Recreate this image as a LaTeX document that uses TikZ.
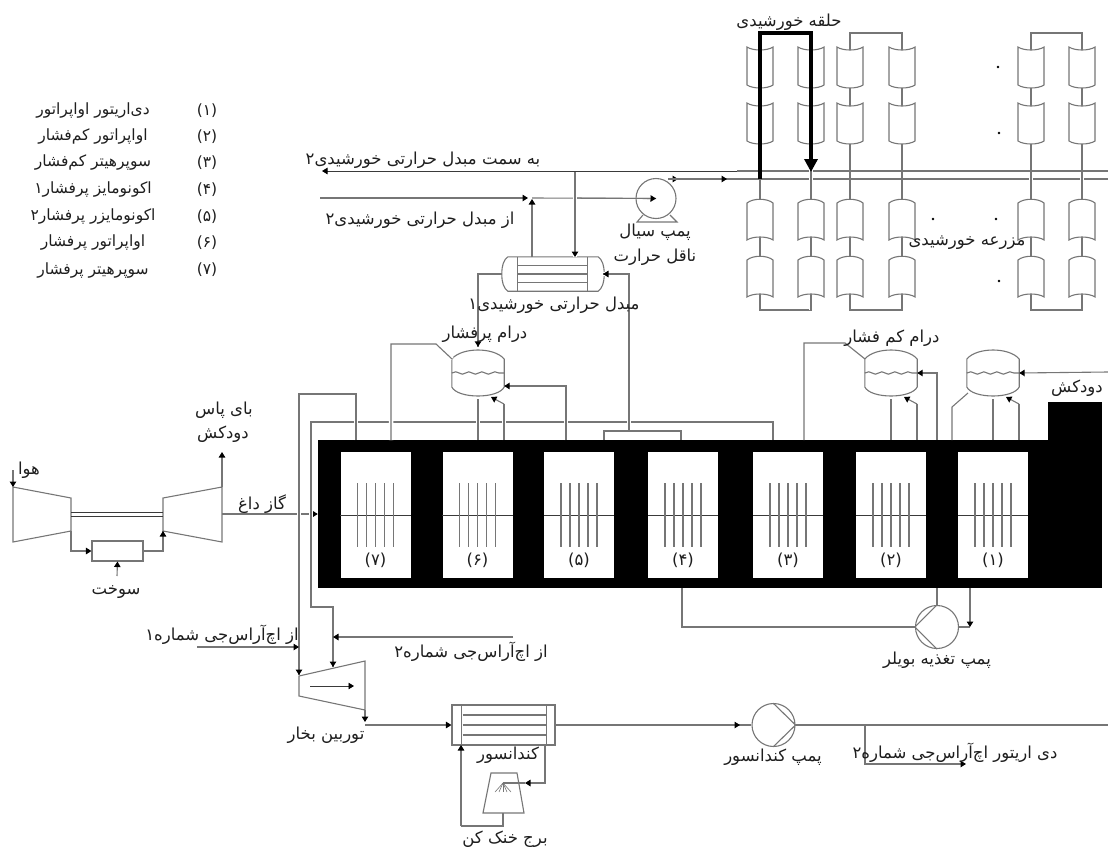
\documentclass[tikz,border=0pt]{standalone}
\usepackage{fontspec}
\usetikzlibrary{arrows.meta,decorations.pathmorphing,calc}
\newfontfamily\arabicfont[Script=Arabic]{DejaVu Sans}
\TeXXeTstate=1
\newcommand\fa[1]{\arabicfont\beginR #1\endR}
\definecolor{ln}{HTML}{767676}
\definecolor{dk}{HTML}{3A3A3A}
\definecolor{tx}{HTML}{1E1E1E}
\tikzset{
 pipe/.style={draw=ln,line width=1.1pt},
 dpipe/.style={draw=dk,line width=0.9pt},
 halo/.style={preaction={draw=white,line width=4.5pt,-}},
 flow/.style={-{Triangle[length=5.5pt,width=6.5pt,color=black]}},
 lab/.style={text=tx,font=\fontsize{16.5}{18}\selectfont,inner sep=0pt},
 leg/.style={text=tx,font=\fontsize{15.5}{18}\selectfont,inner sep=0pt},
 panel/.style={fill=white,minimum width=70pt,minimum height=126pt,inner sep=0pt},
 drumbox/.style={minimum width=52pt,minimum height=52pt,inner sep=0pt},
 boxed/.style={draw=ln,line width=1.1pt,fill=white,inner sep=0pt},
 pumpc/.style={circle,draw=ln,line width=1.1pt,fill=white,minimum size=#1,inner sep=0pt},
}
% upper collector at pipe x, corner top y
\newcommand\ucol[2]{\draw[pipe,fill=white] (#1-13,#2) .. controls (#1-7,#2+4) and (#1+7,#2+4) .. (#1+13,#2) -- (#1+13,#2+38) .. controls (#1+7,#2+42) and (#1-7,#2+42) .. (#1-13,#2+38) -- cycle;}
% lower collector at pipe x, corner top y
\newcommand\lcol[2]{\draw[pipe,fill=white] (#1-13,#2) .. controls (#1-7,#2-5) and (#1+7,#2-5) .. (#1+13,#2) -- (#1+13,#2+37) .. controls (#1+7,#2+33) and (#1-7,#2+33) .. (#1-13,#2+37) -- cycle;}
\newcommand\drumshape[1]{%
 \draw[pipe,fill=white] ($(#1.west)+(0,-14)$) .. controls ($(#1.west)+(10,-26)$) and ($(#1.east)+(-10,-26)$) .. ($(#1.east)+(0,-14)$) -- ($(#1.east)+(0,14)$) .. controls ($(#1.east)+(-6,26)$) and ($(#1.west)+(6,26)$) .. ($(#1.west)+(0,14)$) -- cycle;
 \draw[pipe,decorate,decoration={snake,amplitude=1.2pt,segment length=13pt}] (#1.west) -- (#1.east);}
\begin{document}
\begin{tikzpicture}[x=1pt,y=-1pt]
\useasboundingbox (0,0) rectangle (1108,846);
% ---------- furnace
\node[fill=black,minimum width=784pt,minimum height=148pt,inner sep=0pt] (furn) at (710,514) {};
\node[fill=black,minimum width=54pt,minimum height=38pt,inner sep=0pt] (stack) at (1075,421) {};
\foreach \n/\cx/\t in {1/993/۱,2/891/۲,3/788/۳,4/683/۴,5/579/۵,6/477.5/۶,7/375.5/۷}{
  \node[panel] (p\n) at (\cx,515) {};
  \draw[draw=dk,line width=0.8pt] (p\n.west) -- (p\n.east);
  \foreach \d in {-18,-9,0,9,18}
    \draw[pipe] ($(p\n.center)+(\d,-32)$) -- ($(p\n.center)+(\d,32)$);
  \node[lab] (t\n) at ($(p\n.center)+(0,45)$) {\arabicfont (\t)};
}
% ---------- steam lines above the furnace
\coordinate (ls) at (773,440);
\coordinate (lsa) at (311,422);
\coordinate (lsb) at (333,607);
\coordinate (stin) at (333,667);
\coordinate (hs) at (356,440);
\coordinate (hsa) at (299,394);
\coordinate (stout) at (299,675);
% hot gas
\coordinate (tgout) at (222,514);
\draw[pipe,flow] (tgout) -- (furn.west);
\draw[pipe,halo] (ls) |- (lsa) |- (lsb) -- (stin);
\draw[pipe,flow] (lsb) -- (stin);
\draw[pipe,halo] (hs) |- (hsa) -- (stout);
\draw[pipe,flow] (hsa) -- (stout);
% HP drum
\node[drumbox] (hp) at (478,373) {};
\drumshape{hp}
\coordinate (hpa) at (391,440);
\coordinate (hpb) at (436,344);
\coordinate (hpc) at (452,359);
\draw[pipe,halo] (hpa) |- (hpb) -- (hpc);
\coordinate (hpr) at (478,440);
\draw[pipe,halo] (hpr) -- (hp.south);
\coordinate (hpd) at (504,440);
\coordinate (hpe) at (504,404);
\coordinate (hpf) at (491,397);
\draw[pipe,halo] (hpd) -- (hpe);
\draw[pipe,flow] (hpe) -- (hpf);
\coordinate (hpg) at (566,440);
\draw[pipe,halo] (hpg) -- (566,386);
\draw[pipe,flow] (hpg) |- ($(hp.east)+(0,13)$);
% exchanger 1
\node[minimum width=90pt,minimum height=34pt,inner sep=0pt] (hx) at (553,274) {};
\draw[pipe] (hx.north west) -- (hx.north east) .. controls ($(hx.north east)+(4,3)$) and ($(hx.east)+(6,-9)$) .. ($(hx.east)+(6,0)$) .. controls ($(hx.east)+(6,9)$) and ($(hx.south east)+(4,-3)$) .. (hx.south east) -- (hx.south west) .. controls ($(hx.south west)+(-4,-3)$) and ($(hx.west)+(-6,9)$) .. ($(hx.west)+(-6,0)$) .. controls ($(hx.west)+(-6,-9)$) and ($(hx.north west)+(-4,3)$) .. (hx.north west);
\draw[pipe] ($(hx.north west)+(10,0)$) -- ($(hx.south west)+(10,0)$);
\draw[pipe] ($(hx.north east)+(-11,0)$) -- ($(hx.south east)+(-11,0)$);
\foreach \d in {-8.5,0,8.5}
  \draw[pipe] ($(hx.center)+(-35,\d)$) -- ($(hx.center)+(34,\d)$);
\coordinate (hxl) at (502,274);
\coordinate (hxr) at (603,274);
\draw[pipe] (hxl) -| (hp.north);
\draw[pipe,flow] (478,300) -- (hp.north);
\coordinate (sup1) at (629,431);
\coordinate (sup2) at (604,440);
\coordinate (sup3) at (681,440);
\draw[pipe,halo] (sup1) |- (hxr);
\draw[pipe,flow] (629,274) -- (hxr);
\draw[pipe] (sup2) |- (sup1) -| (sup3);
% LP drum
\node[drumbox] (lp) at (891,373) {};
\drumshape{lp}
\coordinate (lpa) at (804,440);
\coordinate (lpb) at (845,343);
\coordinate (lpc) at (865,359);
\draw[pipe] (lpa) |- (lpb) -- (lpc);
\coordinate (lpr) at (891,440);
\draw[pipe] (lpr) -- (lp.south);
\coordinate (lpd) at (917,440);
\coordinate (lpe) at (917,404);
\coordinate (lpf) at (904,397);
\draw[pipe] (lpd) -- (lpe);
\draw[pipe,flow] (lpe) -- (lpf);
\coordinate (lpg) at (937,440);
\draw[pipe,flow] (lpg) |- (lp.east);
% deaerator drum
\node[drumbox] (de) at (993,373) {};
\drumshape{de}
\coordinate (dea) at (952,440);
\coordinate (deb) at (952,407);
\coordinate (dec) at (968,393);
\draw[pipe] (dea) -- (deb) -- (dec);
\coordinate (der) at (993,440);
\draw[pipe] (der) -- (de.south);
\coordinate (ded) at (1019,440);
\coordinate (dee) at (1019,404);
\coordinate (def) at (1006,397);
\draw[pipe] (ded) -- (dee);
\draw[pipe,flow] (dee) -- (def);
\coordinate (deg) at (1108,372);
\draw[pipe,flow] (deg) -- (de.east);
% ---------- solar loop pipes
\coordinate (hin) at (320,198);
\coordinate (hmid) at (528,198);
\coordinate (hup) at (532,257);
\coordinate (htop) at (532,199);
\coordinate (hdn) at (575,171);
\coordinate (hdnb) at (575,257);
\coordinate (hjn) at (532,198);
\node[pumpc=40pt] (sp) at (656,198.5) {};
\draw[pipe] (hjn) -- (sp.center);
\draw[pipe,flow] (574,198) -- (sp.center);
\draw[pipe,flow] (hin) -- (hmid);
\draw[pipe,flow] (hup) -- (htop);
\draw[pipe,flow,halo] (hdn) -- (hdnb);
\coordinate (retl) at (322,171);
\coordinate (retm) at (737,171);
\coordinate (retr) at (1108,171);
\draw[dpipe,flow] (retm) -- (retl);
\draw[pipe] (retm) -- (retr);
\coordinate (supl) at (668,179);
\coordinate (supm) at (727,179);
\coordinate (supr) at (1108,179);
\draw[pipe] (supl) -- (supr);
\draw[pipe,flow] (supl) -- (678,179);
\draw[pipe,flow] (supl) -- (supm);
\coordinate (spa) at (637,222);
\coordinate (spb) at (643,215);
\coordinate (spc) at (677,222);
\coordinate (spd) at (670,215);
\draw[pipe] (spb) -- (spa) -- (spc) -- (spd);
% loops
\foreach \a/\b/\h in {760/811/halo,850/902/pipe,1031/1082/halo}{
  \draw[pipe,\h] (\a,310) -- (\a,33) -- (\b,33) -- (\b,310) -- cycle;
}
\draw[pipe] (retm) -- (retr);
\draw[pipe] (supm) -- (762,179);
\draw[pipe,halo] (811,33) -- (811,310);
\draw[pipe] (760,33) -- (760,310);
\foreach \x in {760,811,850,902,1031,1082}{
  \ucol{\x}{47}
  \ucol{\x}{103}
  \lcol{\x}{203}
  \lcol{\x}{260}
}
\coordinate (ta1) at (760,179);
\coordinate (ta2) at (760,33);
\coordinate (ta3) at (811,33);
\coordinate (ta4) at (811,172);
\draw[line width=3.6pt,black,miter limit=4,-{Triangle[length=13pt,width=13pt]}] (ta1) |- (ta3) -- (ta4);
\foreach \x/\y in {998/67,999/133,933/219,996/219,999/281}
  \fill[black] (\x,\y) circle (1.3pt);
% ---------- gas turbine
\coordinate (ca) at (13,487); \coordinate (cb) at (71,498); \coordinate (cc) at (71,531); \coordinate (cd) at (13,542);
\draw[pipe] (ca) -- (cb) -- (cc) -- (cd) -- cycle;
\coordinate (ta) at (163,498); \coordinate (tb) at (222,487); \coordinate (tc) at (222,542); \coordinate (td) at (163,531);
\draw[pipe] (ta) -- (tb) -- (tc) -- (td) -- cycle;
\draw[dpipe] (71,512) -- (163,512);
\draw[dpipe] (71,516) -- (163,516);
\node[boxed,minimum width=51pt,minimum height=20pt] (cbr) at (117.5,551) {};
\draw[pipe,flow] (cc) |- (cbr.west);
\draw[pipe] (cbr.east) -| (td);
\draw[pipe,flow] (163,545) -- (td);
\coordinate (fuel) at (117,576);
\draw[pipe,flow] (fuel) -- (cbr.south);
\coordinate (air) at (13,470);
\draw[pipe,flow] (air) -- (ca);
\coordinate (byp) at (222,452);
\draw[pipe,flow] (tb) -- (byp);
% ---------- steam turbine
\coordinate (sa) at (299,676); \coordinate (sb) at (365,661); \coordinate (sc) at (365,710); \coordinate (sd) at (299,696);
\draw[pipe] (sa) -- (sb) -- (sc) -- (sd) -- cycle;
\coordinate (sin1) at (310,686); \coordinate (sin2) at (354,686);
\draw[dpipe,flow] (sin1) -- (sin2);
\coordinate (h1a) at (197,647); \coordinate (h1b) at (299,647);
\draw[pipe,flow] (h1a) -- (h1b);
\coordinate (h2a) at (513,637); \coordinate (h2b) at (333,637);
\draw[pipe,flow] (h2a) -- (h2b);
% condenser
\node[boxed,minimum width=103pt,minimum height=40pt] (cond) at (503.5,725) {};
\draw[pipe] ($(cond.north west)+(10,0)$) -- ($(cond.south west)+(10,0)$);
\draw[pipe] ($(cond.north east)+(-9,0)$) -- ($(cond.south east)+(-9,0)$);
\foreach \d in {-10,0,10}
  \draw[pipe] ($(cond.center)+(-41,\d)$) -- ($(cond.center)+(42,\d)$);
\coordinate (st1) at (365,722);
\coordinate (st2) at (365,725);
\draw[pipe,flow] (sc) -- (st1);
\draw[pipe,flow] (st2) -- (cond.west);
% cooling tower
\coordinate (ct1) at (491,773); \coordinate (ct2) at (517,773); \coordinate (ct3) at (524,813); \coordinate (ct4) at (483,813);
\draw[pipe] (ct1) -- (ct2) -- (ct3) -- (ct4) -- cycle;
\coordinate (cta) at (545,745); \coordinate (ctb) at (545,783); \coordinate (ctc) at (525,783); \coordinate (ctd) at (503,783);
\draw[pipe,flow] (cta) |- (ctc);
\draw[pipe] (ctc) -- (ctd);
\foreach \e in {-8,-4,0,4,8}
  \draw[draw=ln,line width=0.6pt] (ctd) -- ($(ctd)+(\e,9)$);
\coordinate (cte) at (503,813); \coordinate (ctf) at (461,826); \coordinate (ctg) at (461,745);
\draw[pipe] (cte) |- (ctf);
\draw[pipe,flow] (ctf) -- (ctg);
% condenser pump
\node[pumpc=43pt] (cp) at (773.5,725) {};
\draw[pipe] (773.5,703.5) -- (cp.east) -- (773.5,746.5);
\coordinate (cpin) at (740,725);
\draw[pipe] (cond.east) -- (cp.west);
\draw[pipe,flow] (cond.east) -- (cpin);
\coordinate (cpout) at (1108,725);
\draw[pipe] (cp.east) -- (cpout);
\coordinate (br) at (865,725); \coordinate (bre) at (966,764);
\draw[pipe,flow] (br) |- (bre);
% feed pump
\node[pumpc=43pt] (fp) at (937,627) {};
\draw[pipe] (fp.north) -- (fp.west) -- (fp.south);
\coordinate (fpa) at (682,588); \coordinate (fpb) at (937,588); \coordinate (fpc) at (970,588); \coordinate (fpd) at (970,627);
\draw[pipe] (fpa) |- (fp.west);
\draw[pipe] (fpb) -- (fp.north);
\draw[pipe] (fp.east) -- (fpd);
\draw[pipe,flow] (fpc) -- (fpd);
% ---------- labels
\node[leg] (l1) at (93,111) {\fa{دی‌اریتور اواپراتور}};
\node[leg] (l2) at (93,137) {\fa{اواپراتور کم‌فشار}};
\node[leg] (l3) at (93,163) {\fa{سوپرهیتر کم‌فشار}};
\node[leg] (l4) at (93,190) {\fa{اکونومایز پرفشار۱}};
\node[leg] (l5) at (93,217) {\fa{اکونومایزر پرفشار۲}};
\node[leg] (l6) at (93,243) {\fa{اواپراتور پرفشار}};
\node[leg] (l7) at (93,270) {\fa{سوپرهیتر پرفشار}};
\foreach \t/\y in {۱/111,۲/137,۳/163,۴/190,۵/217,۶/243,۷/270}
  \node[leg] (n\t) at (207,\y) {\arabicfont (\t)};
\node[lab] (a1) at (789,22) {\fa{حلقه خورشیدی}};
\node[lab] (a2) at (423,160) {\fa{به سمت مبدل حرارتی خورشیدی۲}};
\node[lab] (a3) at (420,220) {\fa{از مبدل حرارتی خورشیدی۲}};
\node[lab] (a4) at (655,232) {\fa{پمپ سیال}};
\node[lab] (a5) at (655,257) {\fa{ناقل حرارت}};
\node[lab] (a6) at (554,305) {\fa{مبدل حرارتی خورشیدی۱}};
\node[lab] (a7) at (967,243) {\fa{مزرعه خورشیدی}};
\node[lab] (a8) at (485,334) {\fa{درام پرفشار}};
\node[lab] (a9) at (892,338) {\fa{درام کم فشار}};
\node[lab] (a10) at (1077,388) {\fa{دودکش}};
\node[lab] (a11) at (224,410) {\fa{بای پاس}};
\node[lab] (a12) at (223,434) {\fa{دودکش}};
\node[lab] (a13) at (29,470) {\fa{هوا}};
\node[lab] (a14) at (262,504) {\fa{گاز داغ}};
\node[lab] (a15) at (116,592) {\fa{سوخت}};
\node[lab] (a16) at (222,635) {\fa{از اچ‌آر‌اس‌جی شماره۱}};
\node[lab] (a17) at (471,652) {\fa{از اچ‌آر‌اس‌جی شماره۲}};
\node[lab] (a18) at (937,660) {\fa{پمپ تغذیه بویلر}};
\node[lab] (a19) at (326,735) {\fa{توربین بخار}};
\node[lab] (a20) at (508,755) {\fa{کندانسور}};
\node[lab] (a21) at (505,839) {\fa{برج خنک کن}};
\node[lab] (a22) at (773,757) {\fa{پمپ کندانسور}};
\node[lab] (a23) at (955,753) {\fa{دی اریتور اچ‌آر‌اس‌جی شماره۲}};
\end{tikzpicture}
\end{document}
